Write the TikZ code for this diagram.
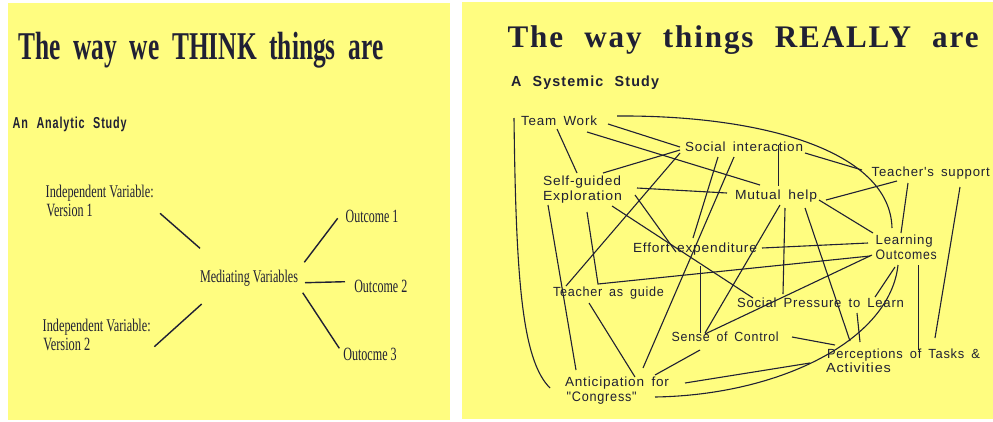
\documentclass[tikz,border=0pt]{standalone}
\usepackage{fontspec}
\usepackage{graphicx}
\setmainfont{Liberation Serif}
\newfontfamily\lblfont[LetterSpace=6,WordSpace=1.6]{Liberation Sans}
\newfontfamily\headsans[LetterSpace=8,WordSpace=2.2]{Liberation Sans}
\newfontfamily\headserif{Liberation Serif}
\newfontfamily\headserifwide[LetterSpace=6,WordSpace=2.2]{Liberation Serif}
\newfontfamily\rmlbl{Liberation Serif}
\definecolor{paper}{RGB}{255,253,128}
\definecolor{ink}{RGB}{32,32,52}
% label helpers: fixed width and height of each printed line
\newcommand\sanslbl[2]{\resizebox{#1}{9.6pt}{\lblfont #2}}
\newcommand\seriflbl[2]{\resizebox{#1}{12.4pt}{\rmlbl #2}}
\newcommand\wsp{\hspace{0.5em}}
\begin{document}
\begin{tikzpicture}[x=1pt,y=-1pt,
  txt/.style={inner sep=0pt,outer sep=0pt,anchor=base west,text=ink},
  link/.style={draw=ink,line width=1.1pt},
  biglink/.style={draw=ink,line width=1.4pt}]
\useasboundingbox (0,0) rectangle (993,421);
\fill[white] (0,0) rectangle (993,421);
\fill[paper] (8,3) rectangle (450,420);
\fill[paper] (462,2) rectangle (993,419);

% ---------- analytic view ----------
\node[txt] (t1) at (18.3,59.3) {\resizebox{365pt}{27.3pt}{\headserif\bfseries The\wsp way\wsp we\wsp THINK\wsp things\wsp are}};
\node[txt] (s1) at (12.7,128.3) {\resizebox{114pt}{11.5pt}{\headsans\bfseries An Analytic Study}};
\node[txt] (iv1a) at (45.7,197.3) {\seriflbl{108pt}{Independent Variable:}};
\node[txt] (iv1b) at (46.7,216.7) {\seriflbl{46pt}{Version 1}};
\node[txt] (mv) at (200,282.7) {\seriflbl{98pt}{Mediating Variables}};
\node[txt] (o1) at (345.7,222.3) {\seriflbl{52.6pt}{Outcome 1}};
\node[txt] (o2) at (354.3,292.3) {\seriflbl{53pt}{Outcome 2}};
\node[txt] (o3) at (343.3,360.7) {\seriflbl{53.4pt}{Outocme 3}};
\node[txt] (iv2a) at (42.7,331.7) {\seriflbl{108pt}{Independent Variable:}};
\node[txt] (iv2b) at (43.3,350) {\seriflbl{47pt}{Version 2}};

\coordinate (iv1-e) at (160,213.3);
\coordinate (mv-a) at (200,248.3);
\coordinate (mv-b) at (304.3,262.3);
\coordinate (o1-w) at (337.7,218.3);
\coordinate (mv-c) at (305,282.7);
\coordinate (o2-w) at (345,281.7);
\coordinate (mv-d) at (302.7,292.7);
\coordinate (o3-w) at (339.3,348.3);
\coordinate (mv-e) at (201.7,304);
\coordinate (iv2-e) at (154.3,346.7);
\draw[biglink] (iv1-e) -- (mv-a);
\draw[biglink] (mv-b) -- (o1-w);
\draw[biglink] (mv-c) -- (o2-w);
\draw[biglink] (mv-d) -- (o3-w);
\draw[biglink] (mv-e) -- (iv2-e);

% ---------- systemic view ----------
\node[txt] (t2) at (507.6,47.6) {\resizebox{471pt}{21.8pt}{\headserifwide\bfseries The way things REALLY are}};
\node[txt] (s2) at (511,86.7) {\resizebox{148pt}{10.6pt}{\headsans\bfseries A Systemic Study}};

\node[txt] (tw) at (521,125) {\sanslbl{76pt}{Team Work}};
\node[txt] (si) at (685,151) {\sanslbl{118pt}{Social interaction}};
\node[txt] (ts) at (871.7,176) {\sanslbl{118pt}{Teacher's support}};
\node[txt] (sga) at (543,185) {\sanslbl{78pt}{Self-guided}};
\node[txt] (sgb) at (543,200.7) {\sanslbl{79pt}{Exploration}};
\node[txt] (mh) at (735,199) {\sanslbl{82pt}{Mutual help}};
\node[txt] (ef) at (633,252.7) {\sanslbl{124pt}{Effort expenditure}};
\node[txt] (loa) at (875.7,244) {\sanslbl{57pt}{Learning}};
\node[txt] (lob) at (875.7,259.3) {\sanslbl{61pt}{Outcomes}};
\node[txt] (tg) at (553,296.7) {\sanslbl{111pt}{Teacher as guide}};
\node[txt] (sp) at (737,307) {\sanslbl{167pt}{Social Pressure to Learn}};
\node[txt] (sc) at (671.7,341.7) {\sanslbl{107pt}{Sense of Control}};
\node[txt] (pta) at (827,358) {\sanslbl{153pt}{Perceptions of Tasks \&}};
\node[txt] (ptb) at (826,372.7) {\sanslbl{65pt}{Activities}};
\node[txt] (ana) at (565,386.7) {\sanslbl{104pt}{Anticipation for}};
\node[txt] (anb) at (566.7,401.7) {\sanslbl{70pt}{"Congress"}};

% connector ends
\coordinate (tw1) at (514,118);   \coordinate (an1) at (550,388);
\coordinate (tw2) at (617,116);   \coordinate (lo1) at (892,228);
\coordinate (tw3) at (608,124);   \coordinate (si1) at (680,147);
\coordinate (tw4) at (587,132);   \coordinate (mh1) at (760,185);
\coordinate (tw5) at (557,129);   \coordinate (sg1) at (577,173);
\coordinate (si2) at (680,150);   \coordinate (sg2) at (603,173);
\coordinate (si3) at (680,153);   \coordinate (tg1) at (566,286);
\coordinate (si4) at (718,157);   \coordinate (ef1) at (693,238);
\coordinate (si5) at (734,157);   \coordinate (an2) at (643,368);
\coordinate (si6) at (778.5,145); \coordinate (mh2) at (778.5,186);
\coordinate (si7) at (805,153);   \coordinate (ts1) at (862,170);
\coordinate (sg3) at (637,188);   \coordinate (mh3) at (727,193);
\coordinate (sg4) at (612,206);   \coordinate (sp1) at (753,298);
\coordinate (sg5) at (635,195);   \coordinate (ef2) at (676,252);
\coordinate (sg6) at (587,212);   \coordinate (tg2) at (598,284);
\coordinate (lo2) at (870,256);
\coordinate (sg7) at (548,205);   \coordinate (an3) at (576,370);
\coordinate (tg3) at (589,303);   \coordinate (an4) at (635,377);
\coordinate (ef3) at (762,248);   \coordinate (lo3) at (868,243);
\coordinate (ef4) at (700.4,266); \coordinate (sc1) at (700.4,333);
\coordinate (mh4) at (780,205);   \coordinate (sc2) at (705,333);
\coordinate (mh5) at (785,208);   \coordinate (sp2) at (783,294);
\coordinate (mh6) at (805,208);   \coordinate (pt1) at (850,341);
\coordinate (mh7) at (826,200);   \coordinate (ts2) at (897,181);
\coordinate (mh8) at (819,200);   \coordinate (lo4) at (873,233);
\coordinate (ts3) at (908,183);   \coordinate (lo5) at (901,233);
\coordinate (ts4) at (960,187);   \coordinate (pt2) at (935,338);
\coordinate (lo6) at (872,255);   \coordinate (sc3) at (705,334);
\coordinate (lo7) at (895,267);   \coordinate (sp3) at (875,297);
\coordinate (lo8) at (898,265);   \coordinate (an5) at (655,397);
\coordinate (sc4) at (792,337);   \coordinate (pt3) at (835,345);
\coordinate (sc5) at (700,350);   \coordinate (an6) at (655,375);
\coordinate (pt4) at (810,363);   \coordinate (an7) at (685,383);
\coordinate (lo9) at (918.4,265); \coordinate (pt5) at (918.4,350);
\coordinate (sp4) at (857,313);   \coordinate (pt6) at (860,342);

\draw[link] (tw1) .. controls (516,280) and (522,360) .. (an1);
\draw[link] (tw2) .. controls (760,115) and (890,150) .. (lo1);
\draw[link] (tw3) -- (si1);
\draw[link] (tw4) -- (mh1);
\draw[link] (tw5) -- (sg1);
\draw[link] (si2) -- (sg2);
\draw[link] (si3) -- (tg1);
\draw[link] (si4) -- (ef1);
\draw[link] (si5) -- (an2);
\draw[link] (si6) -- (mh2);
\draw[link] (si7) -- (ts1);
\draw[link] (sg3) -- (mh3);
\draw[link] (sg4) -- (sp1);
\draw[link] (sg5) -- (ef2);
\draw[link] (sg6) -- (tg2) -- (lo2);
\draw[link] (sg7) -- (an3);
\draw[link] (tg3) -- (an4);
\draw[link] (ef3) -- (lo3);
\draw[link] (ef4) -- (sc1);
\draw[link] (mh4) -- (sc2);
\draw[link] (mh5) -- (sp2);
\draw[link] (mh6) -- (pt1);
\draw[link] (mh7) -- (ts2);
\draw[link] (mh8) -- (lo4);
\draw[link] (ts3) -- (lo5);
\draw[link] (ts4) -- (pt2);
\draw[link] (lo6) -- (sc3);
\draw[link] (lo7) -- (sp3);
\draw[link] (lo8) .. controls (890,340) and (780,395) .. (an5);
\draw[link] (sc4) -- (pt3);
\draw[link] (sc5) -- (an6);
\draw[link] (pt4) -- (an7);
\draw[link] (lo9) -- (pt5);
\draw[link] (sp4) -- (pt6);
\end{tikzpicture}
\end{document}
